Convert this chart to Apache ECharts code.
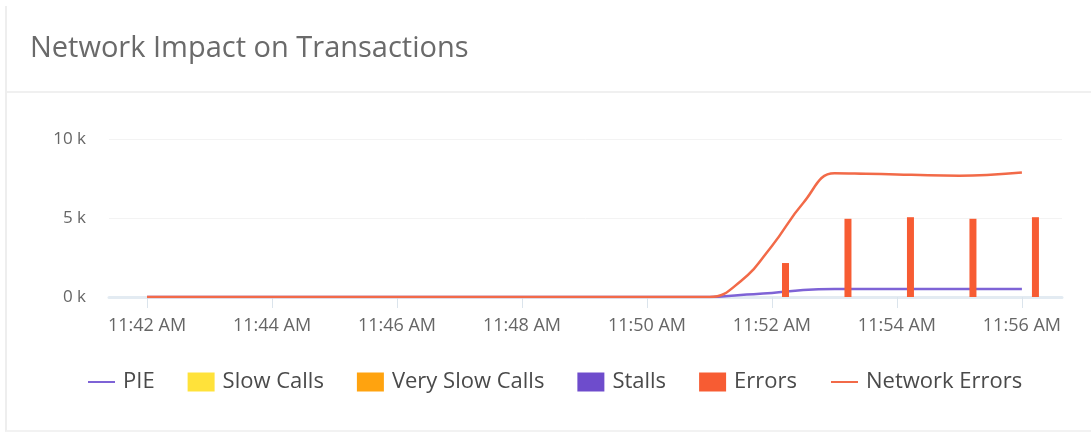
<!DOCTYPE html>
<html>
<head>
<meta charset="utf-8">
<script src="https://cdn.jsdelivr.net/npm/echarts@6/dist/echarts.min.js"></script>
<style>
  html, body { margin: 0; padding: 0; background: #fff; }
  body { width: 1091px; height: 432px; position: relative; overflow: hidden; font-family: "Open Sans", sans-serif; }
  .card { position: absolute; left: 5px; top: 6px; width: 1100px; height: 424px; border-left: 2px solid #eeeeee; border-bottom: 2px solid #f2f2f2; }
  .card-sep { position: absolute; left: 7px; right: 0; top: 91px; height: 2px; background: #f0f0f0; }
  #chart { position: absolute; left: 0; top: 0; width: 1091px; height: 432px; }
</style>
</head>
<body>
<div class="card"></div>
<div class="card-sep"></div>
<div id="chart"></div>
<script>
// Sample times in seconds after 11:42:00 AM (every 30 s up to 11:56 AM)
const sampleSeconds = [0, 30, 60, 90, 120, 150, 180, 210, 240, 270, 300, 330, 360, 390, 420,
  450, 480, 510, 540, 570, 600, 630, 660, 690, 720, 750, 780, 810, 840];
const pieValues = [0, 0, 0, 0, 0, 0, 0, 0, 0, 0, 0, 0, 0, 0, 0,
  0, 0, 0, 0, 130, 250, 440, 500, 500, 500, 500, 500, 500, 500];
const networkErrorValues = [0, 0, 0, 0, 0, 0, 0, 0, 0, 0, 0, 0, 0, 0, 0,
  0, 0, 0, 0, 1000, 3230, 5950, 7830, 7800, 7760, 7700, 7680, 7740, 7880];

// Error buckets (seconds after 11:42:00 AM) and counts
const errorSeconds = [613, 673, 733, 793, 853];
const errorValues = [2150, 4950, 5050, 4950, 5050];

const slowCallValues = [];
const verySlowCallValues = [];
const stallValues = [];

// Axis ticks
const xTickSeconds = [0, 120, 240, 360, 480, 600, 720, 840];
const xTickLabels = ['11:42 AM', '11:44 AM', '11:46 AM', '11:48 AM', '11:50 AM', '11:52 AM', '11:54 AM', '11:56 AM'];
const yTicks = [0, 5000, 10000];
const yTickLabels = ['0 k', '5 k', '10 k'];

const pieData = sampleSeconds.map((s, i) => [s, pieValues[i]]);
const netData = sampleSeconds.map((s, i) => [s, networkErrorValues[i]]);
const errData = errorSeconds.map((s, i) => [s, errorValues[i]]);

const hiddenMarker = { opacity: 0 };

const chart = echarts.init(document.getElementById('chart'), null, { renderer: 'canvas' });
chart.setOption({
  animation: false,
  backgroundColor: 'transparent',
  title: {
    text: 'Network Impact on Transactions',
    left: 25, top: 29,
    textStyle: { fontFamily: 'Open Sans', fontSize: 29, fontWeight: 'normal', color: '#6a6a6a' }
  },
  legend: {
    data: [
      { name: 'PIE', itemStyle: hiddenMarker },
      { name: 'Slow Calls', icon: 'rect' },
      { name: 'Very Slow Calls', icon: 'rect' },
      { name: 'Stalls', icon: 'rect' },
      { name: 'Errors', icon: 'rect' },
      { name: 'Network Errors', itemStyle: hiddenMarker }
    ],
    left: 82, top: 366,
    itemWidth: 27, itemHeight: 19, itemGap: 33,
    textStyle: { fontFamily: 'Open Sans', fontSize: 22, color: '#4a4a4a', padding: [0, 0, 0, 3] }
  },
  grid: { left: 109, right: 29, top: 139, bottom: 135, containLabel: false },
  xAxis: {
    type: 'value',
    min: -36.5,
    max: 878.5,
    splitLine: { show: false },
    axisLine: { show: true, onZero: false, lineStyle: { color: '#e3ebf2', width: 3 } },
    axisTick: { show: true, length: 11, customValues: xTickSeconds, lineStyle: { color: '#dbe4ec', width: 1 } },
    axisLabel: {
      customValues: xTickSeconds,
      formatter: v => xTickLabels[xTickSeconds.indexOf(v)],
      margin: 20,
      fontFamily: 'Open Sans', fontSize: 18, color: '#666'
    }
  },
  yAxis: {
    type: 'value',
    min: yTicks[0], max: yTicks[yTicks.length - 1], interval: yTicks[1] - yTicks[0],
    axisLine: { show: false },
    axisTick: { show: false },
    splitLine: { lineStyle: { color: '#f3f3f3', width: 1 } },
    axisLabel: {
      formatter: v => yTickLabels[yTicks.indexOf(v)],
      margin: 23,
      fontFamily: 'Open Sans', fontSize: 17, color: '#666'
    }
  },
  series: [
    {
      name: 'PIE', type: 'line', data: pieData, symbol: 'none',
      smooth: 0.45,
      lineStyle: { color: '#7e63d6', width: 2.5 }, itemStyle: { color: '#7e63d6' }, z: 2
    },
    { name: 'Slow Calls', type: 'bar', data: slowCallValues, itemStyle: { color: '#ffe23a' } },
    { name: 'Very Slow Calls', type: 'bar', data: verySlowCallValues, itemStyle: { color: '#ffa30f' } },
    { name: 'Stalls', type: 'bar', data: stallValues, itemStyle: { color: '#6e4ccc' } },
    {
      name: 'Errors', type: 'bar', data: errData, barWidth: 7, barGap: '-100%',
      itemStyle: { color: '#f75c33' }, z: 3
    },
    {
      name: 'Network Errors', type: 'line', data: netData, symbol: 'none',
      smooth: 0.45,
      lineStyle: { color: '#f26a48', width: 2.5 }, itemStyle: { color: '#f26a48' }, z: 4
    }
  ]
});
</script>
</body>
</html>
